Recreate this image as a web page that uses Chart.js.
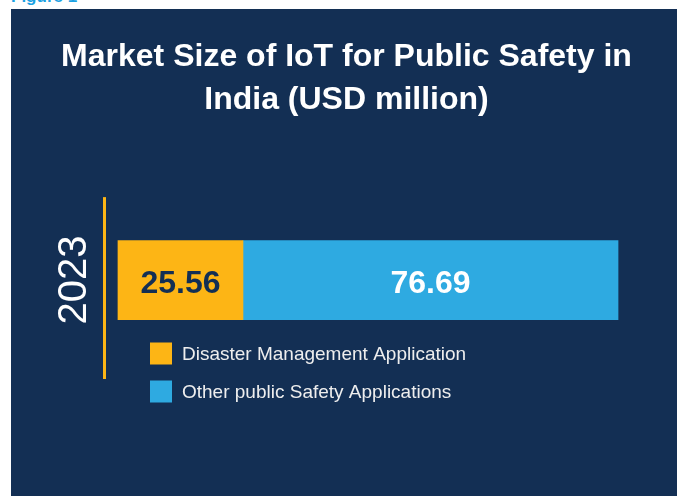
<!DOCTYPE html>
<html>
<head>
<meta charset="utf-8">
<script src="https://cdn.jsdelivr.net/npm/chart.js@4/dist/chart.umd.min.js"></script>
<style>
  html, body { margin: 0; padding: 0; background: #fff; overflow: hidden; }
  body { width: 681px; height: 496px; position: relative; font-family: 'Liberation Sans', Arial, sans-serif; }
  #fig { position: absolute; left: 11px; top: -13px; font: bold 17px/20px 'Liberation Sans', Arial, sans-serif; color: #1ba1e2; }
  #panel { position: absolute; left: 11px; top: 9px; width: 666px; height: 487px; background: #132f54; }
  #wrap { position: absolute; left: 0; top: 0; width: 681px; height: 496px; }
</style>
</head>
<body>
<div id="fig">Figure 1</div>
<div id="panel"></div>
<div id="wrap"><canvas id="chart"></canvas></div>
<script>
const years = ['2023'];
const seriesNames = ['Disaster Management Application', 'Other public Safety Applications'];
const disasterMgmt = [25.56];
const otherPublicSafety = [76.69];

const orange = '#fdb515';
const blue = '#2eaae1';
const navy = '#132f54';

// yellow axis line, runs a little past the chart area like the original
const axisLine = {
  id: 'axisLine',
  beforeDatasetsDraw(chart) {
    const { ctx, chartArea } = chart;
    ctx.save();
    ctx.strokeStyle = orange;
    ctx.lineWidth = 3;
    ctx.beginPath();
    ctx.moveTo(chartArea.left + 0.5, chartArea.top);
    ctx.lineTo(chartArea.left + 0.5, chartArea.bottom + 16);
    ctx.stroke();
    ctx.restore();
  }
};

// value text in the middle of each segment
const valueLabels = {
  id: 'valueLabels',
  afterDatasetsDraw(chart) {
    const { ctx } = chart;
    const colors = [navy, '#ffffff'];
    ctx.save();
    ctx.font = "bold 32px 'Liberation Sans', Arial, sans-serif";
    ctx.textAlign = 'center';
    ctx.textBaseline = 'middle';
    chart.data.datasets.forEach((ds, i) => {
      chart.getDatasetMeta(i).data.forEach((bar, j) => {
        ctx.fillStyle = colors[i];
        ctx.fillText(ds.data[j].toFixed(2), (bar.x + bar.base) / 2, bar.y + 4);
      });
    });
    ctx.restore();
  }
};

// stacked legend under the bar, inside the panel
const sideLegend = {
  id: 'sideLegend',
  afterDraw(chart) {
    const { ctx, chartArea } = chart;
    const x = chartArea.left + 46;
    ctx.save();
    ctx.font = "19px 'Liberation Sans', Arial, sans-serif";
    ctx.textBaseline = 'middle';
    chart.data.datasets.forEach((ds, i) => {
      const y = chartArea.bottom - 9.5 + i * 38;
      ctx.fillStyle = ds.backgroundColor;
      ctx.fillRect(x, y - 11, 22, 22);
      ctx.fillStyle = '#eeeeee';
      ctx.fillText(ds.label, x + 32, y + 1);
    });
    ctx.restore();
  }
};

new Chart(document.getElementById('chart'), {
  type: 'bar',
  data: {
    labels: years,
    datasets: [
      { label: seriesNames[0], data: disasterMgmt, backgroundColor: orange, barThickness: 79 },
      { label: seriesNames[1], data: otherPublicSafety, backgroundColor: blue, barThickness: 79 }
    ]
  },
  options: {
    indexAxis: 'y',
    responsive: true,
    maintainAspectRatio: false,
    animation: false,
    layout: { padding: { left: 51, right: 39, top: 0, bottom: 133 } },
    plugins: {
      legend: { display: false },
      tooltip: { enabled: false },
      title: {
        display: true,
        text: ['Market Size of IoT for Public Safety in', 'India (USD million)'],
        color: '#ffffff',
        font: { family: "'Liberation Sans', Arial, sans-serif", size: 32, weight: 'bold', lineHeight: 1.33 },
        padding: { top: 36, bottom: 76 }
      }
    },
    scales: {
      x: { stacked: true, display: false, min: -2.857, max: 107.15 },
      y: {
        stacked: true,
        grid: { display: false },
        border: { display: false },
        ticks: { display: false },
        title: {
          display: true,
          text: years[0],
          color: '#ffffff',
          font: { family: "'Liberation Sans', Arial, sans-serif", size: 40, lineHeight: 1 },
          padding: { top: 4, bottom: 1 }
        }
      }
    }
  },
  plugins: [axisLine, valueLabels, sideLegend]
});
</script>
</body>
</html>
